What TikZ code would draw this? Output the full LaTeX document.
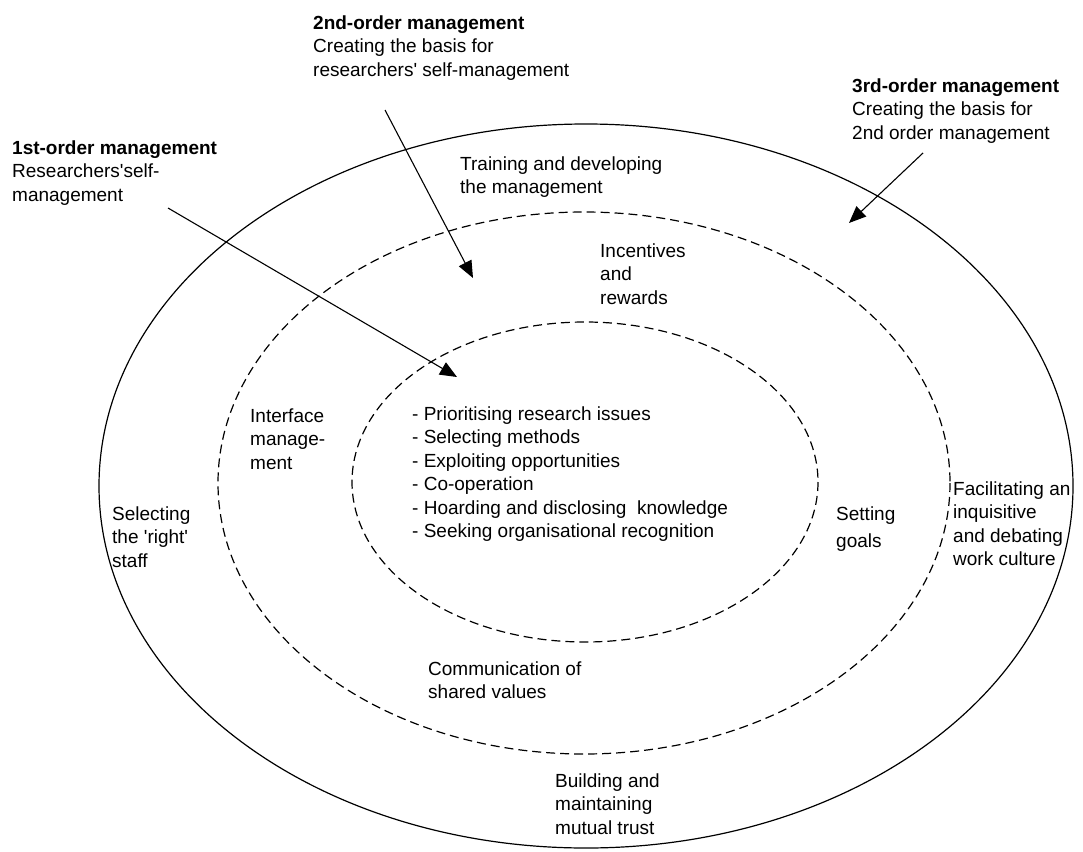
\documentclass[tikz,border=0pt]{standalone}
\usepackage{fontspec}
\setmainfont{Liberation Sans}
\usetikzlibrary{arrows.meta}
\begin{document}
\begin{tikzpicture}[x=1pt,y=-1pt,
  ring/.style={line width=1.2pt},
  dring/.style={line width=1.2pt,dash pattern=on 9pt off 5pt},
  lbl/.style={anchor=north west,inner sep=0pt,align=left,font=\fontsize{19}{23.5}\selectfont},
  ptr/.style={line width=1.1pt,-{Triangle[length=17pt,width=14pt]}}]
\useasboundingbox[fill=white] (0,0) rectangle (1083,851);
% rings
\draw[ring] (586,486) ellipse [x radius=487, y radius=362];
\draw[dring] (584,483) ellipse [x radius=366, y radius=271];
\draw[dring] (585,482) ellipse [x radius=233, y radius=160];
% headings
\node[lbl] (h2) at (313,15.5) {\textbf{2nd-order management}\\Creating the basis for\\researchers\textquotesingle{} self-management};
\node[lbl] (h1) at (12,140.5) {\textbf{1st-order management}\\Researchers\textquotesingle{}self-\\management};
\node[lbl] (h3) at (852,78.5) {\textbf{3rd-order management}\\Creating the basis for\\2nd order management};
% ring labels
\node[lbl] (train) at (460,156.5) {Training and developing\\the management};
\node[lbl] (inc) at (600,243.5) {Incentives\\and\\rewards};
\node[lbl] (list) at (412,406.5) {- Prioritising research issues\\- Selecting methods\\- Exploiting opportunities\\- Co-operation\\- Hoarding and disclosing~ knowledge\\- Seeking organisational recognition};
\node[lbl] (iface) at (250,408.5) {Interface\\manage-\\ment};
\node[lbl] (staff) at (112,506.5) {Selecting\\the \textquotesingle{}right\textquotesingle{}\\staff};
\node[lbl] (goals) at (836,506.5) {Setting\\[4pt]goals};
\node[lbl] (facil) at (953,481.5) {Facilitating an\\inquisitive\\and debating\\work culture};
\node[lbl] (comm) at (428,661.5) {Communication of\\shared values};
\node[lbl] (trust) at (555,773.5) {Building and\\maintaining\\mutual trust};
% arrows
\coordinate (a1s) at (168,208); \coordinate (a1e) at (457,377);
\coordinate (a2s) at (385,110); \coordinate (a2e) at (473,278);
\coordinate (a3s) at (923,153); \coordinate (a3e) at (849,223);
\draw[ptr] (a1s) -- (a1e);
\draw[ptr] (a2s) -- (a2e);
\draw[ptr] (a3s) -- (a3e);
\end{tikzpicture}
\end{document}
